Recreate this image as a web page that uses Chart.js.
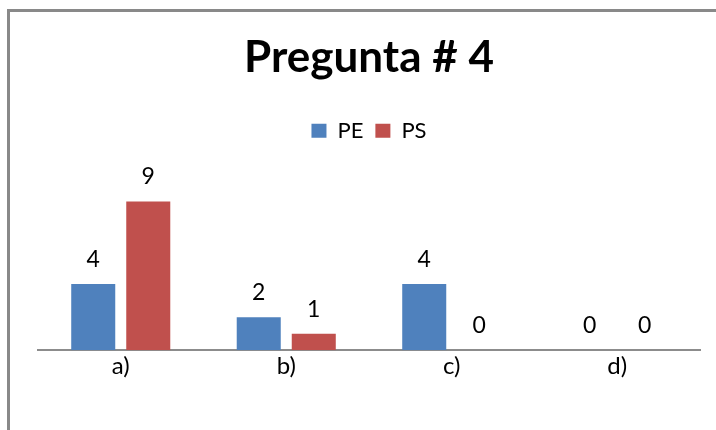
<!DOCTYPE html>
<html>
<head>
<meta charset="utf-8">
<script src="https://cdn.jsdelivr.net/npm/chart.js@4.4.0/dist/chart.umd.min.js"></script>
<style>
  html, body { margin: 0; padding: 0; background: #fff; }
  #wrap { position: relative; width: 716px; height: 430px; }
</style>
</head>
<body>
<div id="wrap"><canvas id="chart" width="716" height="430"></canvas></div>
<script>
const categories = ['a)', 'b)', 'c)', 'd)'];
const peValues = [4, 2, 4, 0];
const psValues = [9, 1, 0, 0];
const seriesNames = ['PE', 'PS'];

const FONT = 'Lato, "Open Sans", sans-serif';

// outer frame (only top and left edges fall inside the picture)
const framePlugin = {
  id: 'frame',
  beforeDraw(chart) {
    const ctx = chart.ctx;
    ctx.save();
    ctx.strokeStyle = '#898989';
    ctx.lineWidth = 3;
    ctx.beginPath();
    ctx.moveTo(8.5, 430);
    ctx.lineTo(8.5, 10.5);
    ctx.lineTo(716, 10.5);
    ctx.stroke();
    ctx.restore();
  }
};

// value labels above every bar
const valueLabels = {
  id: 'valueLabels',
  afterDatasetsDraw(chart) {
    const ctx = chart.ctx;
    ctx.save();
    ctx.font = '23px ' + FONT;
    ctx.fillStyle = '#000';
    ctx.textAlign = 'center';
    ctx.textBaseline = 'alphabetic';
    chart.data.datasets.forEach((ds, i) => {
      chart.getDatasetMeta(i).data.forEach((bar, j) => {
        ctx.fillText(String(ds.data[j]), bar.x, bar.y - 17);
      });
    });
    ctx.restore();
  }
};

new Chart(document.getElementById('chart'), {
  type: 'bar',
  data: {
    labels: categories,
    datasets: [
      { label: seriesNames[0], data: peValues, backgroundColor: '#4F81BD' },
      { label: seriesNames[1], data: psValues, backgroundColor: '#C0504D' }
    ]
  },
  options: {
    responsive: false,
    animation: false,
    categoryPercentage: 0.665,
    barPercentage: 0.8,
    layout: { padding: { left: 38, right: 16, top: 0, bottom: 47 } },
    plugins: {
      title: {
        display: true,
        text: 'Pregunta # 4',
        color: '#000',
        font: { family: FONT, size: 44, weight: 'bold' },
        padding: { top: 31, bottom: 24 }
      },
      legend: {
        display: true,
        labels: {
          color: '#000',
          font: { family: FONT, size: 22 },
          boxWidth: 15,
          boxHeight: 14,
          padding: 12
        }
      },
      tooltip: { enabled: false }
    },
    scales: {
      x: {
        grid: { display: false, drawTicks: false },
        border: { display: true, color: '#8c8c8c', width: 2 },
        ticks: { color: '#000', font: { family: FONT, size: 24 }, padding: 2 }
      },
      y: {
        display: false,
        min: 0,
        max: 12
      }
    }
  },
  plugins: [framePlugin, valueLabels]
});
</script>
</body>
</html>
